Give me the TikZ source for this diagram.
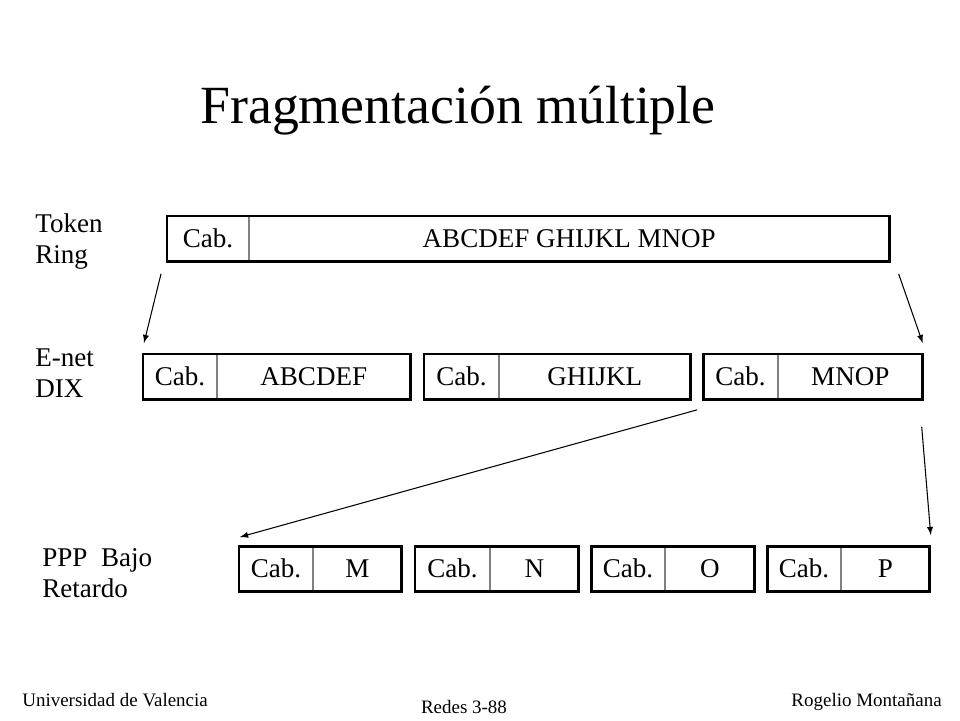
\documentclass[tikz,border=0pt]{standalone}
\usepackage{fontspec}
\setmainfont{Liberation Serif}
\usepackage{tikz}
\usetikzlibrary{arrows,positioning,calc}
\tikzstyle{cab} = [rectangle, draw = gray, line width = 0.5pt, anchor = north west, minimum height = 0.9cm, inner sep = 0pt, text height = 10.2pt, text depth = 0pt, font = \fontsize{15.4}{17.6}\selectfont]
\tikzstyle{datos} = [rectangle, draw = gray, line width = 0.5pt, right = 0pt of #1, minimum height = 0.9cm, inner sep = 0pt, text height = 10.2pt, text depth = 0pt, font = \fontsize{15.4}{17.6}\selectfont]
\tikzstyle{marco} = [line width = 1.7pt, draw = black]
\tikzstyle{etiqueta} = [anchor = base west, align = left, inner sep = 0pt, font = \fontsize{15.4}{17.6}\selectfont]
\tikzstyle{pie} = [inner sep = 0pt, font = \fontsize{10.8}{12}\selectfont]
\tikzstyle{flecha} = [line width = 0.6pt, ->, > = latex]

\begin{document}
\begin{tikzpicture}[x = 0.02cm, y = -0.02cm]
    \useasboundingbox (0,0) rectangle (960,720);

    \node (titulo) [anchor = base, inner sep = 0pt, font = \fontsize{30.6}{36}\selectfont] at (458,123) {Fragmentación múltiple};

    \node (lbl-tr) [etiqueta] at (35,263) {Token\\Ring};
    \node (lbl-e) [etiqueta] at (35,397) {E-net\\DIX};
    \node (lbl-ppp) [etiqueta] at (42,597) {PPP\ \ Bajo\\Retardo};

    % Token Ring
    \node (tr-cab) [cab, minimum width = 1.62cm] at (167,216) {Cab.};
    \node (tr-data) [datos = tr-cab, minimum width = 12.8cm] {ABCDEF GHIJKL MNOP};
    \draw [marco] (tr-cab.north west) rectangle (tr-data.south east);

    % Ethernet DIX
    \node (e1-cab) [cab, minimum width = 1.46cm] at (143,354) {Cab.};
    \node (e1-data) [datos = e1-cab, minimum width = 3.86cm] {ABCDEF};
    \draw [marco] (e1-cab.north west) rectangle (e1-data.south east);
    \node (e2-cab) [cab, minimum width = 1.48cm] at (424,354) {Cab.};
    \node (e2-data) [datos = e2-cab, minimum width = 3.82cm] {GHIJKL};
    \draw [marco] (e2-cab.north west) rectangle (e2-data.south east);
    \node (e3-cab) [cab, minimum width = 1.48cm] at (703,354) {Cab.};
    \node (e3-data) [datos = e3-cab, minimum width = 2.88cm] {MNOP};
    \draw [marco] (e3-cab.north west) rectangle (e3-data.south east);

    % PPP bajo retardo
    \node (m-cab) [cab, minimum width = 1.46cm] at (239,546) {Cab.};
    \node (m-data) [datos = m-cab, minimum width = 1.76cm] {M};
    \draw [marco] (m-cab.north west) rectangle (m-data.south east);
    \node (n-cab) [cab, minimum width = 1.48cm] at (415,546) {Cab.};
    \node (n-data) [datos = n-cab, minimum width = 1.76cm] {N};
    \draw [marco] (n-cab.north west) rectangle (n-data.south east);
    \node (o-cab) [cab, minimum width = 1.46cm] at (591,546) {Cab.};
    \node (o-data) [datos = o-cab, minimum width = 1.78cm] {O};
    \draw [marco] (o-cab.north west) rectangle (o-data.south east);
    \node (p-cab) [cab, minimum width = 1.46cm] at (767,546) {Cab.};
    \node (p-data) [datos = p-cab, minimum width = 1.76cm] {P};
    \draw [marco] (p-cab.north west) rectangle (p-data.south east);

    \coordinate (ini-1) at ($(tr-cab.south west) + (-6,12)$);
    \coordinate (fin-1) at ($(e1-cab.north west) + (1,-11)$);
    \coordinate (ini-2) at ($(tr-data.south east) + (9,12)$);
    \coordinate (fin-2) at ($(e3-data.north east) + (0,-11)$);
    \coordinate (ini-3) at ($(e3-cab.south west) + (-6,10)$);
    \coordinate (fin-3) at ($(m-cab.north west) + (1,-9)$);
    \coordinate (ini-4) at ($(e3-data.south east) + (-1,27)$);
    \coordinate (fin-4) at ($(p-data.north east) + (1,-11)$);

    \draw [flecha] (ini-1) -- (fin-1);
    \draw [flecha] (ini-2) -- (fin-2);
    \draw [flecha] (ini-3) -- (fin-3);
    \draw [flecha] (ini-4) -- (fin-4);

    \node (uv) [pie, anchor = base west] at (22,706) {Universidad de Valencia};
    \node (redes) [pie, anchor = base] at (464,713) {Redes 3-88};
    \node (autor) [pie, anchor = base east] at (942,706) {Rogelio Montañana};
\end{tikzpicture}
\end{document}
